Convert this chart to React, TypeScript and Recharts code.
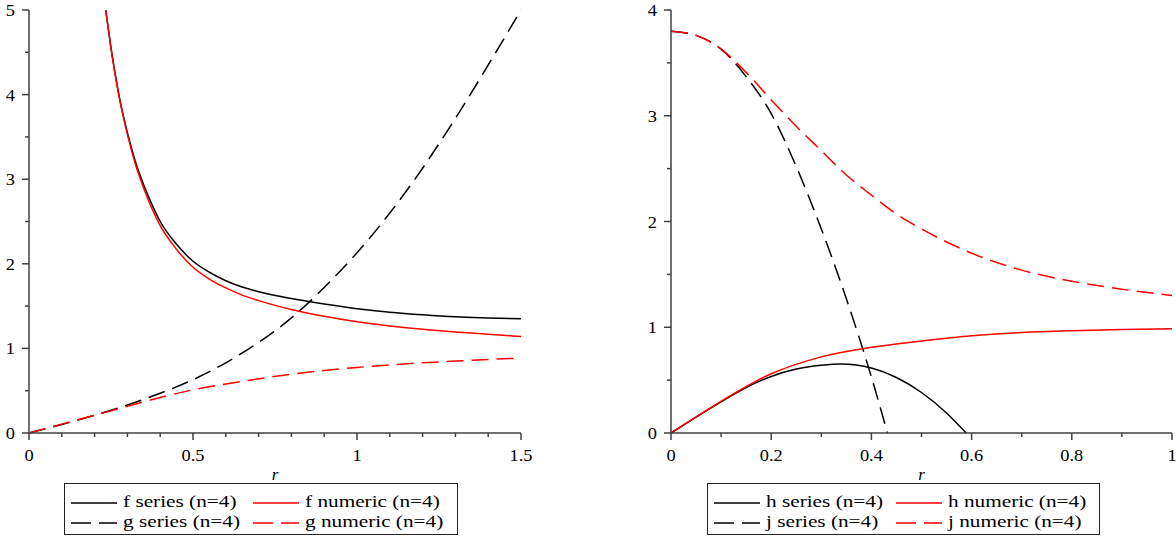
import React from 'react';
import { LineChart, Line, XAxis, YAxis } from 'recharts';

// ---- left panel: f and g ----
const fR = [0.234, 0.25, 0.275, 0.3, 0.325, 0.35, 0.375, 0.4, 0.45, 0.5, 0.55, 0.6, 0.65, 0.7, 0.8, 0.9, 1.0, 1.1, 1.2, 1.3, 1.4, 1.5];
const fSeries = [5.0, 4.55, 3.98, 3.55, 3.2, 2.93, 2.7, 2.5, 2.23, 2.03, 1.9, 1.8, 1.725, 1.67, 1.59, 1.525, 1.47, 1.428, 1.397, 1.373, 1.36, 1.35];
const fNumeric = [5.0, 4.55, 3.97, 3.53, 3.17, 2.89, 2.65, 2.45, 2.17, 1.96, 1.82, 1.715, 1.63, 1.565, 1.46, 1.38, 1.315, 1.265, 1.225, 1.195, 1.168, 1.14];

const gR = [0, 0.1, 0.2, 0.3, 0.4, 0.5, 0.6, 0.7, 0.8, 0.9, 1.0, 1.1, 1.2, 1.3, 1.4, 1.5];
const gSeries = [0, 0.1, 0.21, 0.33, 0.47, 0.63, 0.83, 1.07, 1.36, 1.72, 2.13, 2.6, 3.13, 3.72, 4.35, 5.0];
const gNumeric = [0, 0.105, 0.21, 0.315, 0.42, 0.51, 0.58, 0.64, 0.695, 0.74, 0.775, 0.805, 0.83, 0.85, 0.87, 0.885];

const leftTicksX = [0, 0.1, 0.2, 0.3, 0.4, 0.5, 0.6, 0.7, 0.8, 0.9, 1.0, 1.1, 1.2, 1.3, 1.4, 1.5];
const leftTicksY = [0, 0.5, 1, 1.5, 2, 2.5, 3, 3.5, 4, 4.5, 5];

// ---- right panel: h and j ----
const hR = [0, 0.05, 0.1, 0.15, 0.2, 0.25, 0.3, 0.34, 0.4, 0.45, 0.5, 0.55, 0.589];
const hSeries = [0, 0.15, 0.295, 0.43, 0.535, 0.605, 0.64, 0.652, 0.614, 0.525, 0.383, 0.189, 0];

const hnR = [0, 0.1, 0.2, 0.3, 0.4, 0.5, 0.6, 0.7, 0.8, 0.9, 1.0];
const hNumeric = [0, 0.3, 0.56, 0.72, 0.81, 0.87, 0.92, 0.95, 0.967, 0.978, 0.985];

const jR = [0, 0.05, 0.1, 0.15, 0.2, 0.25, 0.3, 0.35, 0.4, 0.432];
const jSeries = [3.8, 3.76, 3.63, 3.37, 3.02, 2.52, 1.93, 1.27, 0.53, 0];

const jnR = [0, 0.05, 0.1, 0.15, 0.2, 0.25, 0.3, 0.35, 0.4, 0.45, 0.5, 0.6, 0.7, 0.8, 0.9, 1.0];
const jNumeric = [3.8, 3.76, 3.63, 3.41, 3.15, 2.9, 2.67, 2.44, 2.25, 2.07, 1.93, 1.7, 1.54, 1.435, 1.36, 1.3];

const rightTicksX = [0, 0.1, 0.2, 0.3, 0.4, 0.5, 0.6, 0.7, 0.8, 0.9, 1.0];
const rightTicksY = [0, 0.5, 1, 1.5, 2, 2.5, 3, 3.5, 4];

const zip = (rs: number[], vs: number[]) => rs.map((r, i) => ({ r, v: vs[i] }));

const AXIS = '#404040';
const RED = '#ff0000';
const FONT = 'Liberation Serif';
const DASH = '17 8';

const isMajor = (v: number, step: number) => Math.abs(v / step - Math.round(v / step)) < 1e-6;
const fmt = (v: number) => String(Number(v.toFixed(2)));

function XTick(props: any) {
  const { x, y, payload, step } = props;
  const major = isMajor(payload.value, step);
  return (
    <g>
      <line x1={x} x2={x} y1={y} y2={y + (major ? 7 : 4)} stroke={AXIS} strokeWidth={1.5} />
      {major && (
        <text
          transform={`translate(${x},${y + 28}) scale(1.15,1)`}
          textAnchor="middle"
          style={{ fontFamily: FONT, fontSize: 16 }}
          fill="#000"
        >
          {fmt(payload.value)}
        </text>
      )}
    </g>
  );
}

function YTick(props: any) {
  const { x, y, payload } = props;
  const major = isMajor(payload.value, 1);
  return (
    <g>
      <line x1={x} x2={x - (major ? 7 : 4)} y1={y} y2={y} stroke={AXIS} strokeWidth={1.5} />
      {major && (
        <text
          transform={`translate(${x - 14},${y + 6}) scale(1.15,1)`}
          textAnchor="end"
          style={{ fontFamily: FONT, fontSize: 16 }}
          fill="#000"
        >
          {fmt(payload.value)}
        </text>
      )}
    </g>
  );
}

interface LegendItem {
  label: string;
  color: string;
  dashed: boolean;
}

function LegendBox({ left, top, width, items }: { left: number; top: number; width: number; items: LegendItem[] }) {
  const cols = [6, 188];
  const rows = [19, 39];
  return (
    <div
      style={{
        position: 'absolute',
        left,
        top,
        width,
        height: 52,
        boxSizing: 'border-box',
        border: '1px solid #222',
        background: '#fff',
      }}
    >
      {items.map((it, i) => {
        const cx = cols[i % 2];
        const cy = rows[Math.floor(i / 2)];
        return (
          <React.Fragment key={it.label}>
            <svg style={{ position: 'absolute', left: cx, top: cy - 2 }} width={46} height={4}>
              <line x1={0} x2={46} y1={2} y2={2} stroke={it.color} strokeWidth={1.5} strokeDasharray={it.dashed ? '20 8' : undefined} />
            </svg>
            <span
              style={{
                position: 'absolute',
                left: cx + 52,
                top: cy - 11,
                fontFamily: FONT,
                fontSize: 17,
                lineHeight: '20px',
                whiteSpace: 'nowrap',
                transform: 'scaleX(1.25)',
                transformOrigin: 'left center',
                color: '#000',
              }}
            >
              {it.label}
            </span>
          </React.Fragment>
        );
      })}
    </div>
  );
}

const leftLegend: LegendItem[] = [
  { label: 'f series (n=4)', color: '#000', dashed: false },
  { label: 'f numeric (n=4)', color: RED, dashed: false },
  { label: 'g series (n=4)', color: '#000', dashed: true },
  { label: 'g numeric (n=4)', color: RED, dashed: true },
];

const rightLegend: LegendItem[] = [
  { label: 'h series (n=4)', color: '#000', dashed: false },
  { label: 'h numeric (n=4)', color: RED, dashed: false },
  { label: 'j series (n=4)', color: '#000', dashed: true },
  { label: 'j numeric (n=4)', color: RED, dashed: true },
];

const rLabel = { value: 'r', position: 'insideBottom', offset: 0, fill: '#000', fontSize: 17, fontStyle: 'italic', style: { fontFamily: FONT } } as any;

export default function App() {
  return (
    <div style={{ position: 'absolute', left: 0, top: 0, width: 1176, height: 542, background: '#fff', overflow: 'hidden' }}>
      <div style={{ position: 'absolute', left: 0, top: 0 }}>
        <LineChart width={540} height={542} margin={{ top: 10, right: 19, bottom: 62, left: 0 }}>
          <XAxis
            dataKey="r"
            type="number"
            domain={[0, 1.5]}
            ticks={leftTicksX}
            interval={0}
            height={47}
            tickSize={0}
            tickMargin={0}
            tickLine={false}
            axisLine={{ stroke: AXIS, strokeWidth: 1.5 }}
            tick={(p: any) => <XTick {...p} step={0.5} />}
            label={rLabel}
          />
          <YAxis
            type="number"
            domain={[0, 5]}
            ticks={leftTicksY}
            interval={0}
            width={29}
            tickSize={0}
            tickMargin={0}
            tickLine={false}
            axisLine={{ stroke: AXIS, strokeWidth: 1.5 }}
            tick={(p: any) => <YTick {...p} />}
          />
          <Line data={zip(fR, fSeries)} dataKey="v" type="monotone" stroke="#000" strokeWidth={1.5} dot={false} isAnimationActive={false} />
          <Line data={zip(gR, gSeries)} dataKey="v" type="natural" stroke="#000" strokeWidth={1.5} strokeDasharray={DASH} dot={false} isAnimationActive={false} />
          <Line data={zip(fR, fNumeric)} dataKey="v" type="monotone" stroke={RED} strokeWidth={1.5} dot={false} isAnimationActive={false} />
          <Line data={zip(gR, gNumeric)} dataKey="v" type="monotone" stroke={RED} strokeWidth={1.5} strokeDasharray={DASH} dot={false} isAnimationActive={false} />
        </LineChart>
      </div>
      <div style={{ position: 'absolute', left: 590, top: 0 }}>
        <LineChart width={586} height={542} margin={{ top: 10, right: 4, bottom: 62, left: 0 }}>
          <XAxis
            dataKey="r"
            type="number"
            domain={[0, 1]}
            ticks={rightTicksX}
            interval={0}
            height={47}
            tickSize={0}
            tickMargin={0}
            tickLine={false}
            axisLine={{ stroke: AXIS, strokeWidth: 1.5 }}
            tick={(p: any) => <XTick {...p} step={0.2} />}
            label={rLabel}
          />
          <YAxis
            type="number"
            domain={[0, 4]}
            ticks={rightTicksY}
            interval={0}
            width={81}
            tickSize={0}
            tickMargin={0}
            tickLine={false}
            axisLine={{ stroke: AXIS, strokeWidth: 1.5 }}
            tick={(p: any) => <YTick {...p} />}
          />
          <Line data={zip(hR, hSeries)} dataKey="v" type="monotone" stroke="#000" strokeWidth={1.5} dot={false} isAnimationActive={false} />
          <Line data={zip(jR, jSeries)} dataKey="v" type="monotone" stroke="#000" strokeWidth={1.5} strokeDasharray={DASH} dot={false} isAnimationActive={false} />
          <Line data={zip(hnR, hNumeric)} dataKey="v" type="monotone" stroke={RED} strokeWidth={1.5} dot={false} isAnimationActive={false} />
          <Line data={zip(jnR, jNumeric)} dataKey="v" type="monotone" stroke={RED} strokeWidth={1.5} strokeDasharray={DASH} dot={false} isAnimationActive={false} />
        </LineChart>
      </div>
      <LegendBox left={64} top={483} width={394} items={leftLegend} />
      <LegendBox left={707} top={483} width={393} items={rightLegend} />
    </div>
  );
}
